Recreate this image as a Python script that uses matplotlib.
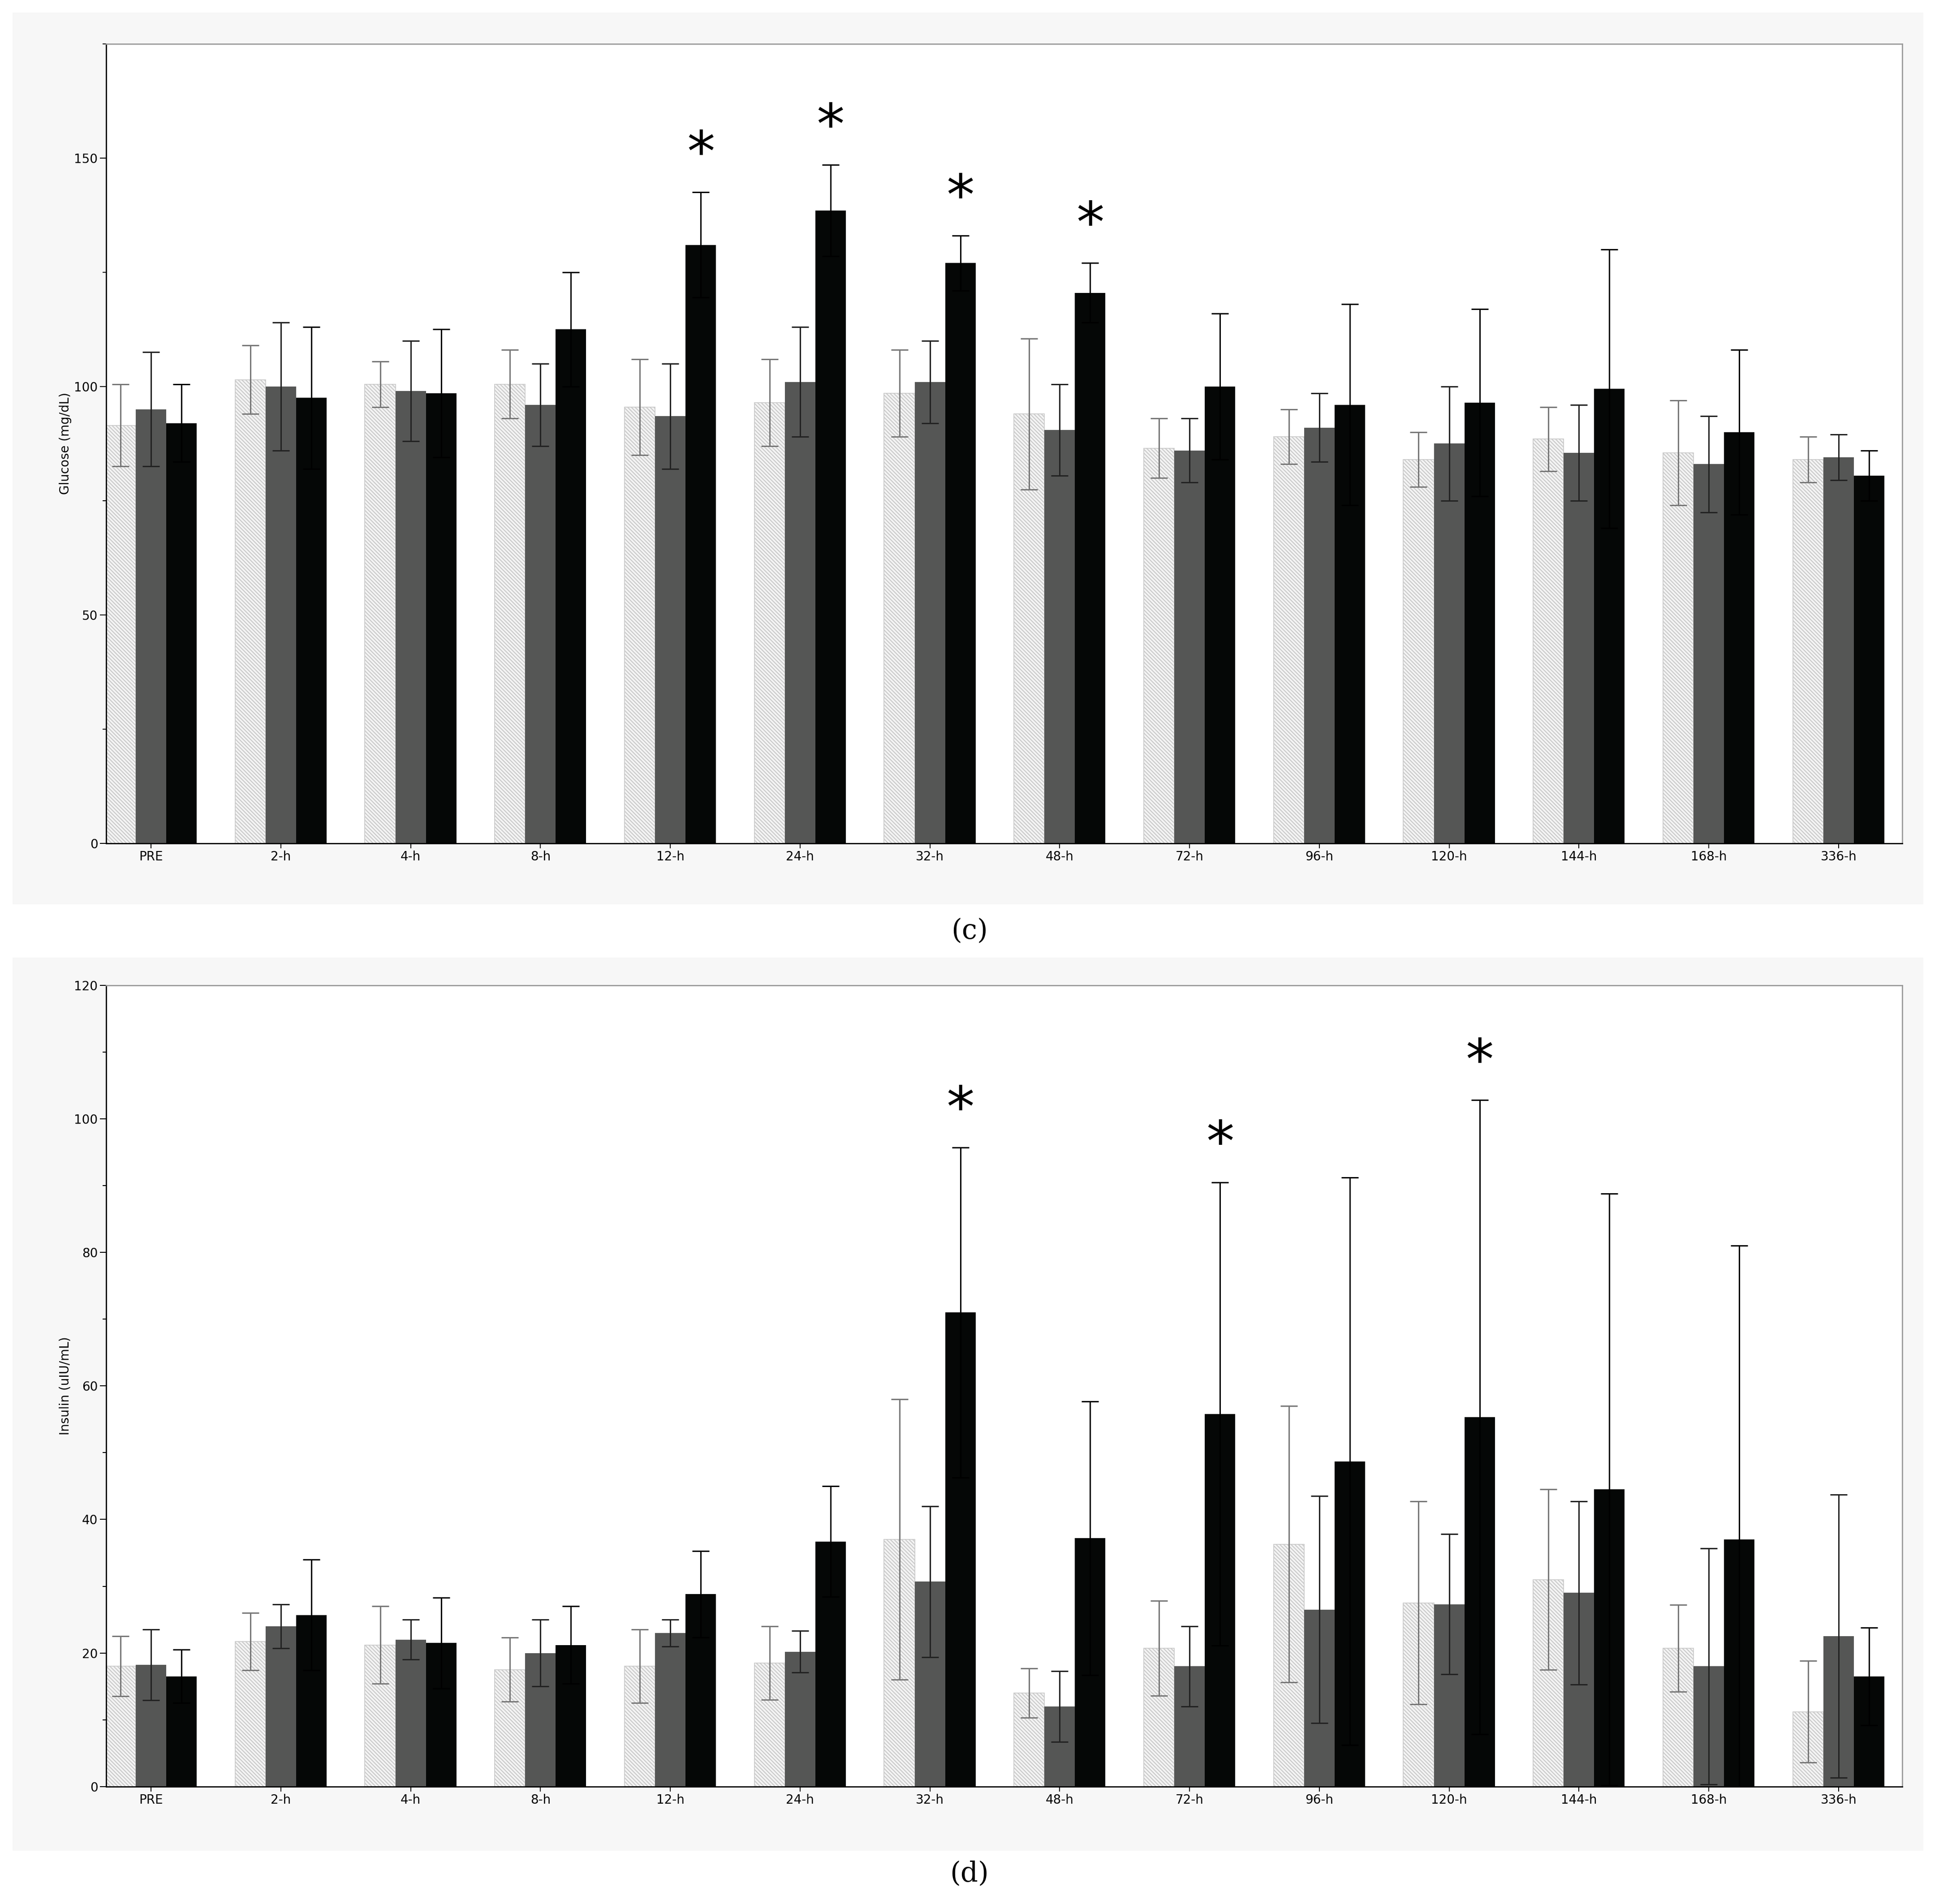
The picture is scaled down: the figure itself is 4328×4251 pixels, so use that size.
import matplotlib
matplotlib.use("Agg")
import matplotlib.pyplot as plt
import numpy as np

plt.rcParams['hatch.color'] = '#b0b0b0'
plt.rcParams['hatch.linewidth'] = 1.5

times = ["PRE", "2-h", "4-h", "8-h", "12-h", "24-h", "32-h", "48-h", "72-h", "96-h", "120-h", "144-h", "168-h", "336-h"]

glu_light = [91.5, 101.5, 100.5, 100.5, 95.5, 96.5, 98.5, 94, 86.5, 89, 84, 88.5, 85.5, 84]
glu_light_up = [100.5, 109, 105.5, 108, 106, 106, 108, 110.5, 93, 95, 90, 95.5, 97, 89]
glu_gray = [95, 100, 99, 96, 93.5, 101, 101, 90.5, 86, 91, 87.5, 85.5, 83, 84.5]
glu_gray_up = [107.5, 114, 110, 105, 105, 113, 110, 100.5, 93, 98.5, 100, 96, 93.5, 89.5]
glu_black = [92, 97.5, 98.5, 112.5, 131, 138.5, 127, 120.5, 100, 96, 96.5, 99.5, 90, 80.5]
glu_black_up = [100.5, 113, 112.5, 125, 142.5, 148.5, 133, 127, 116, 118, 117, 130, 108, 86]
glu_stars = ["12-h", "24-h", "32-h", "48-h"]

ins_light = [18, 21.7, 21.2, 17.5, 18, 18.5, 37, 14, 20.7, 36.3, 27.5, 31, 20.7, 11.2]
ins_light_up = [22.5, 26, 27, 22.3, 23.5, 24, 58, 17.7, 27.8, 57, 42.7, 44.5, 27.2, 18.8]
ins_gray = [18.2, 24, 22, 20, 23, 20.2, 30.7, 12, 18, 26.5, 27.3, 29, 18, 22.5]
ins_gray_up = [23.5, 27.3, 25, 25, 25, 23.3, 42, 17.3, 24, 43.5, 37.8, 42.7, 35.7, 43.7]
ins_black = [16.5, 25.7, 21.5, 21.2, 28.8, 36.7, 71, 37.2, 55.8, 48.7, 55.3, 44.5, 37, 16.5]
ins_black_up = [20.5, 34, 28.3, 27, 35.3, 45, 95.7, 57.7, 90.5, 91.2, 102.8, 88.8, 81, 23.8]
ins_stars = ["32-h", "72-h", "120-h"]

fig = plt.figure(figsize=(43.28, 42.51), dpi=100)
fig.patches.append(plt.Rectangle((0.0064, 0.525), 0.9856, 0.4685, transform=fig.transFigure,
                                 facecolor='#f7f7f7', edgecolor='none', zorder=-10))
fig.patches.append(plt.Rectangle((0.0064, 0.028), 0.9856, 0.469, transform=fig.transFigure,
                                 facecolor='#f7f7f7', edgecolor='none', zorder=-10))

def panel(rect, light, lu, gray, gu, black, bu, stars, ylim, major, minor, ylabel, tag, tagy):
    ax = fig.add_axes(rect)
    x = np.arange(len(times))
    w = 0.235
    ek = dict(capsize=14, elinewidth=2.2, capthick=2.2)
    ax.bar(x - w, light, w, facecolor='#f4f4f4', edgecolor='#c8c8c8', hatch='\\\\\\\\', linewidth=1.2,
           yerr=[np.array(lu) - np.array(light), np.array(lu) - np.array(light)],
           error_kw=dict(ecolor='#777777', **ek))
    ax.bar(x, gray, w, color='#555655',
           yerr=[np.array(gu) - np.array(gray), np.array(gu) - np.array(gray)],
           error_kw=dict(ecolor='#222222', **ek))
    ax.bar(x + w, black, w, color='#050706',
           yerr=[np.array(bu) - np.array(black), np.array(bu) - np.array(black)],
           error_kw=dict(ecolor='#000000', **ek))
    for s in stars:
        i = times.index(s)
        ax.text(i + w, bu[i] + ylim * 0.012, "*", ha='center', va='bottom', fontsize=90)
    ax.set_xlim(-0.345, 13.49)
    ax.set_ylim(0, ylim)
    ax.set_xticks(x)
    ax.set_xticklabels(times, fontsize=20)
    ax.set_yticks(major)
    ax.set_yticks(minor, minor=True)
    ax.tick_params(axis='y', labelsize=20, length=10, width=1.5)
    ax.tick_params(axis='y', which='minor', length=6, width=1.5)
    ax.tick_params(axis='x', length=8, width=1.5)
    ax.set_ylabel(ylabel, fontsize=20)
    for sp in ax.spines.values():
        sp.set_color('#999999')
        sp.set_linewidth(2)
    ax.spines['bottom'].set_color('#000000')
    ax.spines['left'].set_color('#000000')
    ax.set_facecolor('white')
    fig.text(0.5, tagy, tag, ha='center', va='center', fontsize=44, family='DejaVu Serif')
    return ax

panel([0.0548, 0.557, 0.9262, 0.420], glu_light, glu_light_up, glu_gray, glu_gray_up, glu_black, glu_black_up,
      glu_stars, 175, [0, 50, 100, 150], np.arange(0, 176, 25), "Glucose (mg/dL)", "(c)", 0.511)
panel([0.0548, 0.0617, 0.9262, 0.4208], ins_light, ins_light_up, ins_gray, ins_gray_up, ins_black, ins_black_up,
      ins_stars, 120, np.arange(0, 121, 20), np.arange(0, 121, 10), "Insulin (uIU/mL)", "(d)", 0.016)

fig.savefig("out.png", dpi=100)
